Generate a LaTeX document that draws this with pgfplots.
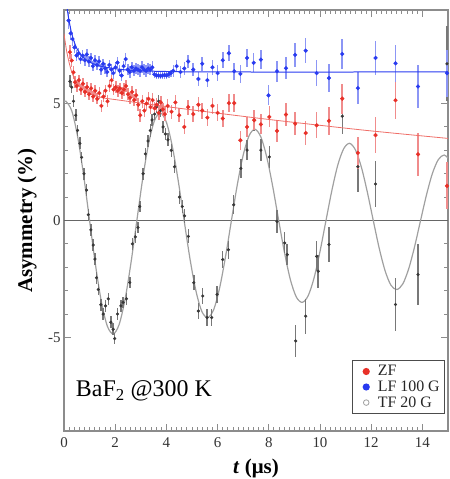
\documentclass[border=0pt]{standalone}
\usepackage{fontspec}
\setmainfont{Liberation Serif}
\usepackage{pgfplots}
\pgfplotsset{compat=1.18}
\usetikzlibrary{calc}

\definecolor{zfred}{RGB}{232,48,40}
\definecolor{zfbar}{RGB}{240,140,140}
\definecolor{lfblue}{RGB}{40,58,240}
\definecolor{lfbar}{RGB}{140,150,245}
\definecolor{tfdark}{RGB}{55,55,55}
\definecolor{tfbar}{RGB}{120,120,120}
\definecolor{fitgray}{RGB}{160,160,160}
\definecolor{framegray}{RGB}{140,140,140}

\begin{document}
\begin{tikzpicture}
\begin{axis}[
    width=384bp, height=421bp, scale only axis,
    xmin=0, xmax=15, ymin=-9, ymax=9,
    xtick={0,2,...,14}, ytick={-5,0,5},
    minor x tick num=9, minor y tick num=4,
    tick align=inside,
    major tick length=7bp, minor tick length=4bp,
    axis line style={draw=framegray, line width=1.6bp},
    every tick/.style={draw=framegray, line width=0.9bp},
    /pgf/number format/assume math mode=true,
    tick label style={font=\fontsize{15}{16}\selectfont, text=black!80},
    xticklabel style={yshift=-3bp},
    label style={font=\fontsize{21}{22}\selectfont\bfseries},
    xlabel={\textit{t} (μs)},
    ylabel={Asymmetry (\%)},
    xlabel style={at={(axis description cs:0.5,-0.088)}, anchor=center},
    ylabel style={at={(axis description cs:-0.096,0.5)}, anchor=center},
    legend style={at={(rel axis cs:0.993,0.04)}, anchor=south east,
        draw=black!70, line width=1.1bp, fill=white,
        font=\fontsize{16}{17}\selectfont, inner xsep=4pt, inner ysep=4pt,
        row sep=1.5pt,
        nodes={inner sep=1pt, text=black!85}},
    legend cell align=left,
]

% zero line
\addplot[forget plot, color=black!60, line width=1.2bp] coordinates {(0,0) (15,0)};

% TF 20 G fit
\addplot[forget plot, smooth, color=fitgray, line width=1.2bp] coordinates {
(0,5.06) (0.075,5.10) (0.306,4.68) (0.537,3.56) (0.768,1.92) (0.999,0)
(1.229,-1.89) (1.460,-3.47) (1.691,-4.51) (1.922,-4.85) (2.153,-4.45)
(2.384,-3.38) (2.615,-1.82) (2.846,0) (3.076,1.80) (3.307,3.30)
(3.538,4.28) (3.769,4.60) (4.000,4.20) (4.231,3.17) (4.462,1.70)
(4.693,0) (4.923,-1.65) (5.154,-3.01) (5.385,-3.89) (5.616,-4.15)
(5.847,-3.81) (6.078,-2.89) (6.309,-1.55) (6.540,0) (6.770,1.53)
(7.001,2.80) (7.232,3.63) (7.463,3.90) (7.694,3.56) (7.925,2.69)
(8.156,1.44) (8.387,0) (8.618,-1.40) (8.848,-2.55) (9.079,-3.28)
(9.310,-3.50) (9.541,-3.21) (9.772,-2.44) (10.003,-1.31) (10.234,0)
(10.465,1.29) (10.695,2.37) (10.926,3.07) (11.157,3.30) (11.388,3.01)
(11.619,2.27) (11.850,1.21) (12.081,0) (12.312,-1.18) (12.543,-2.15)
(12.773,-2.77) (13.004,-2.95) (13.235,-2.71) (13.466,-2.06) (13.697,-1.11)
(13.928,0) (14.159,1.09) (14.390,2.01) (14.620,2.60) (14.851,2.80)
(15.082,2.57)
};

% TF 20 G data
\addplot[forget plot, only marks, mark=*, mark size=1.4bp, color=tfdark,
    error bars/.cd, y dir=both, y explicit, error mark=none,
    error bar style={line width=1.5bp, color=tfbar}]
table[x=t, y=a, y error=e] {
t a e
0.23 5.95 0.25
0.30 5.70 0.25
0.37 5.10 0.25
0.46 4.50 0.25
0.53 3.85 0.25
0.62 3.30 0.25
0.69 2.70 0.25
0.78 2.00 0.25
0.88 1.30 0.25
0.95 0.25 0.25
1.05 -0.40 0.25
1.14 -1.05 0.25
1.21 -1.65 0.25
1.27 -2.45 0.25
1.34 -2.95 0.25
1.44 -3.60 0.25
1.53 -4.00 0.25
1.62 -3.65 0.25
1.73 -3.35 0.25
1.83 -4.35 0.25
1.92 -4.65 0.25
1.98 -5.05 0.25
2.09 -4.00 0.25
2.22 -3.65 0.25
2.31 -3.50 0.25
2.44 -3.35 0.25
2.57 -2.65 0.25
2.67 -1.00 0.25
2.79 -0.70 0.25
2.89 -0.30 0.25
2.96 0.60 0.25
3.09 2.00 0.26
3.18 2.85 0.26
3.28 3.40 0.26
3.37 3.85 0.26
3.44 4.30 0.26
3.54 4.55 0.26
3.61 4.85 0.26
3.70 5.10 0.26
3.77 4.70 0.26
3.87 4.00 0.27
3.96 3.70 0.27
4.06 3.45 0.27
4.19 3.00 0.27
4.32 2.30 0.28
4.51 1.00 0.28
4.62 0.60 0.29
4.71 0.20 0.29
4.86 -0.68 0.30
5.07 -2.66 0.32
5.25 -3.87 0.33
5.42 -3.23 0.34
5.59 -4.15 0.35
5.77 -4.15 0.35
5.98 -3.16 0.36
6.20 -1.67 0.37
6.42 -1.25 0.38
6.63 0.67 0.40
6.91 2.23 0.42
7.15 3.01 0.43
7.43 4.29 0.45
7.69 3.01 0.46
8.02 2.72 0.48
8.32 -0.04 0.50
8.62 -0.96 0.45
8.72 -1.46 0.45
9.05 -5.15 0.70
9.44 -4.09 0.75
9.87 -1.53 0.65
9.93 -2.17 0.70
10.35 -1.03 0.75
10.87 4.46 0.78
11.48 2.30 1.10
12.17 1.56 1.00
12.95 -3.59 1.12
13.83 -2.31 1.30
14.96 6.70 1.60
};

% ZF data
\addplot[forget plot, only marks, mark=*, mark size=1.9bp, color=zfred,
    error bars/.cd, y dir=both, y explicit, error mark=none,
    error bar style={line width=1.6bp, color=zfbar}]
table[x=t, y=a, y error=e] {
t a e
0.23 7.20 0.30
0.30 6.84 0.28
0.37 6.34 0.27
0.43 5.91 0.26
0.50 5.75 0.25
0.58 6.00 0.24
0.66 5.60 0.24
0.74 5.85 0.24
0.82 5.50 0.24
0.90 5.70 0.24
0.98 5.40 0.24
1.06 5.65 0.24
1.14 5.30 0.24
1.22 5.55 0.24
1.30 5.20 0.24
1.38 5.45 0.24
1.46 4.90 0.24
1.54 5.30 0.24
1.62 5.55 0.25
1.70 5.10 0.25
1.78 5.75 0.25
1.86 6.00 0.25
1.94 5.60 0.25
2.02 5.70 0.25
2.10 5.55 0.25
2.18 5.65 0.25
2.26 5.45 0.25
2.34 5.60 0.26
2.42 5.75 0.26
2.50 5.40 0.26
2.58 5.25 0.26
2.66 5.50 0.26
2.74 5.15 0.26
2.82 5.35 0.26
2.90 4.95 0.27
2.98 4.50 0.27
3.06 5.10 0.27
3.14 4.70 0.27
3.22 5.00 0.27
3.30 5.20 0.28
3.38 4.85 0.28
3.46 5.15 0.28
3.54 4.80 0.28
3.62 4.95 0.28
3.70 4.60 0.29
3.78 5.05 0.29
3.86 4.75 0.29
3.94 4.55 0.29
4.05 4.90 0.30
4.20 4.65 0.30
4.35 5.05 0.31
4.50 4.50 0.31
4.70 4.00 0.32
4.85 4.85 0.32
5.05 4.55 0.33
5.25 4.95 0.33
5.40 4.70 0.34
5.60 4.40 0.35
5.80 4.90 0.35
6.00 4.60 0.36
6.20 4.36 0.37
6.44 5.02 0.38
6.65 5.02 0.39
6.89 3.43 0.40
7.15 4.00 0.41
7.43 4.29 0.42
7.69 4.11 0.43
8.02 4.43 0.45
8.32 3.83 0.46
8.67 4.53 0.48
9.03 4.14 0.50
9.44 3.74 0.53
9.87 4.07 0.56
10.35 4.26 0.60
10.87 5.21 0.64
11.48 2.89 0.68
12.17 3.65 0.76
12.95 5.14 0.80
13.83 2.83 0.92
14.96 1.48 1.00
};

% LF 100 G data
\addplot[forget plot, only marks, mark=*, mark size=1.9bp, color=lfblue,
    error bars/.cd, y dir=both, y explicit, error mark=none,
    error bar style={line width=1.6bp, color=lfbar}]
table[x=t, y=a, y error=e] {
t a e
0.18 8.55 0.35
0.26 8.00 0.30
0.33 7.76 0.28
0.41 7.40 0.26
0.49 7.05 0.25
0.57 7.15 0.24
0.65 6.90 0.23
0.73 7.05 0.23
0.81 6.85 0.23
0.89 7.10 0.22
0.97 6.80 0.22
1.05 6.95 0.22
1.13 6.60 0.22
1.21 6.85 0.22
1.29 6.65 0.22
1.37 6.80 0.22
1.45 6.45 0.22
1.53 6.70 0.22
1.61 6.50 0.22
1.69 6.35 0.23
1.77 6.65 0.23
1.85 6.45 0.23
1.93 6.30 0.23
2.01 6.55 0.23
2.09 6.75 0.23
2.17 6.40 0.23
2.25 6.20 0.23
2.33 6.60 0.24
2.41 6.90 0.24
2.49 6.45 0.24
2.57 6.35 0.24
2.65 6.55 0.24
2.73 6.40 0.24
2.81 6.50 0.24
2.89 6.45 0.24
2.97 6.40 0.25
3.05 6.55 0.25
3.13 6.45 0.25
3.21 6.40 0.25
3.29 6.50 0.25
3.37 6.45 0.25
3.45 6.55 0.25
3.53 6.25 0.15
3.61 6.20 0.15
3.69 6.20 0.15
3.77 6.18 0.15
3.85 6.20 0.15
3.93 6.22 0.15
4.01 6.20 0.15
4.09 6.25 0.15
4.17 6.30 0.15
4.27 6.40 0.26
4.40 6.60 0.27
4.55 6.35 0.27
4.70 6.50 0.28
4.85 6.80 0.28
5.05 6.45 0.29
5.25 6.05 0.30
5.40 6.70 0.30
5.60 6.00 0.31
5.80 6.55 0.32
6.00 6.30 0.33
6.20 6.85 0.34
6.44 7.15 0.35
6.65 6.38 0.36
6.89 6.27 0.37
7.15 6.95 0.38
7.41 6.74 0.40
7.69 6.88 0.41
7.99 5.35 0.43
8.32 6.38 0.45
8.67 6.51 0.48
9.03 7.08 0.50
9.44 7.26 0.53
9.87 6.30 0.56
10.35 6.09 0.60
10.87 7.12 0.64
11.48 5.66 0.68
12.17 6.95 0.74
12.95 6.72 0.80
13.83 5.73 0.90
14.96 6.30 1.00
};

% ZF fit
\addplot[forget plot, smooth, color=zfred!70, line width=0.8bp] coordinates {
(0,7.99) (0.1,7.26) (0.2,6.75) (0.3,6.36) (0.4,6.09) (0.5,5.87)
(0.7,5.62) (1.0,5.42) (1.5,5.25) (2,5.17) (3,5.02) (4,4.87)
(6,4.59) (8,4.32) (10,4.07) (12,3.83) (15,3.51)
};

% LF 100 G fit
\addplot[forget plot, smooth, color=lfblue, line width=1bp] coordinates {
(0.05,9.76) (0.1,9.27) (0.15,8.86) (0.2,8.52) (0.3,7.99) (0.4,7.63)
(0.5,7.36) (0.6,7.17) (0.8,6.92) (1.0,6.77) (1.25,6.66) (1.5,6.58)
(2,6.49) (2.5,6.43) (3,6.40) (4,6.37) (6,6.35) (15,6.35)
};

\addlegendimage{legend image code/.code={
    \path (0bp,0bp) (19bp,0bp);
    \fill[zfred] (9bp,0bp) circle (3bp);}}
\addlegendentry{ZF}
\addlegendimage{legend image code/.code={
    \path (0bp,0bp) (19bp,0bp);
    \fill[lfblue] (9bp,0bp) circle (3bp);}}
\addlegendentry{LF 100 G}
\addlegendimage{legend image code/.code={
    \path (0bp,0bp) (19bp,0bp);
    \draw[fitgray, line width=0.8bp] (9bp,0bp) circle (2.8bp);}}
\addlegendentry{TF 20 G}

\node[anchor=base west, inner sep=0pt, font=\fontsize{24}{26}\selectfont]
    at (axis cs:0.46,-7.54) {BaF\textsubscript{2} @300 K};
\end{axis}
\pgfresetboundingbox
\useasboundingbox ($(current axis.south west)+(-64bp,-48bp)$)
    rectangle ($(current axis.north east)+(2bp,10bp)$);
\end{tikzpicture}
\end{document}
